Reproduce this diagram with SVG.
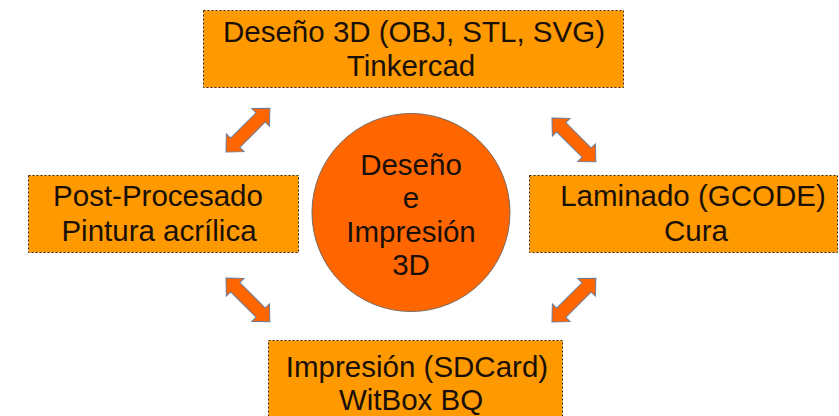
<svg xmlns="http://www.w3.org/2000/svg" width="839" height="416" viewBox="0 0 839 416">
<style>
.box{fill:#ff9900;stroke:#3a2a10;stroke-width:1;stroke-dasharray:2,2}
.t{font-family:"Liberation Sans",Arial,sans-serif;font-size:29.5px;fill:#1a1008;text-anchor:middle}
.arr{fill:#ff6600;stroke:#6b7a99;stroke-width:1;stroke-linejoin:miter}
</style>
<defs>
<path id="dbl" d="M0,0 L13,-12.5 L13,-6.5 L49,-6.5 L49,-12.5 L62,0 L49,12.5 L49,6.5 L13,6.5 L13,12.5 Z"/>
</defs>
<rect width="839" height="416" fill="#ffffff"/>
<g id="connectors">
<use href="#dbl" class="arr" transform="translate(226,152) rotate(-45)"/>
<use href="#dbl" class="arr" transform="translate(552,118) rotate(45)"/>
<use href="#dbl" class="arr" transform="translate(226,278) rotate(45)"/>
<use href="#dbl" class="arr" transform="translate(552,322) rotate(-45)"/>
</g>
<g id="node-diseno">
<rect class="box" x="203.5" y="10.5" width="420" height="77"/>
<text class="t" x="414" y="42">Deseño 3D (OBJ, STL, SVG)</text>
<text class="t" x="411" y="76">Tinkercad</text>
</g>
<g id="node-postprocesado">
<rect class="box" x="28.5" y="175.5" width="270" height="77"/>
<text class="t" x="158" y="206">Post-Procesado</text>
<text class="t" x="159" y="241">Pintura acrílica</text>
</g>
<g id="node-laminado">
<rect class="box" x="529.5" y="175.5" width="308" height="77"/>
<text class="t" x="693" y="206">Laminado (GCODE)</text>
<text class="t" x="696" y="241">Cura</text>
</g>
<g id="node-impresion">
<rect class="box" x="268.5" y="340.5" width="294" height="80"/>
<text class="t" x="417" y="377">Impresión (SDCard)</text>
<text class="t" x="411" y="410">WitBox BQ</text>
</g>
<g id="node-centro">
<circle cx="411" cy="212.5" r="99" fill="#ff6600" stroke="#7a6a60" stroke-width="1"/>
<text class="t" x="411" y="175">Deseño</text>
<text class="t" x="411" y="208">e</text>
<text class="t" x="411" y="242">Impresión</text>
<text class="t" x="411" y="275">3D</text>
</g>
</svg>
